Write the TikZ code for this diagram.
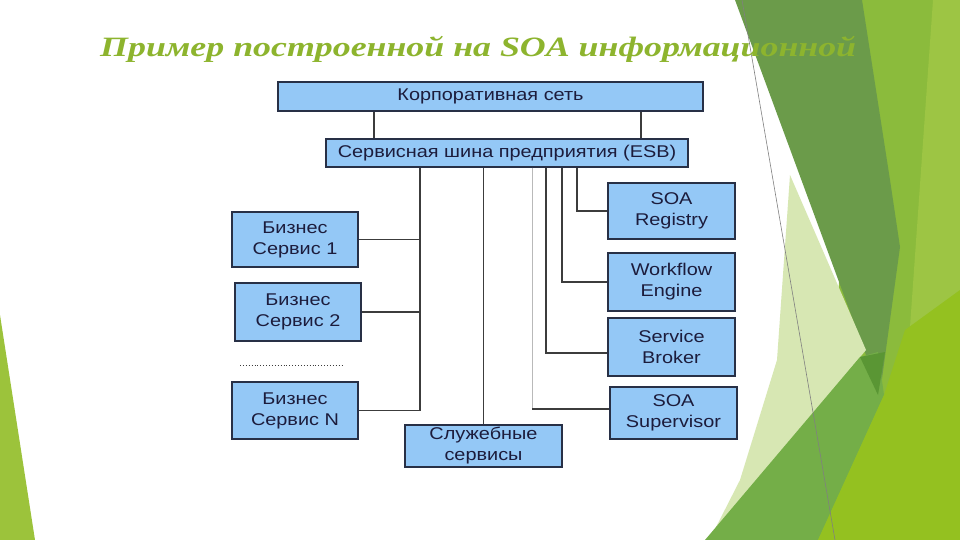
\documentclass[tikz,border=0pt]{standalone}
\usepackage{fontspec}
\newfontfamily\titlefont[FakeStretch=1.28]{Liberation Serif}
\newfontfamily\boxfont[FakeStretch=1.17]{Liberation Sans}
\definecolor{gdark}{HTML}{6B9B4A}
\definecolor{gmid}{HTML}{8BBB3C}
\definecolor{gright}{HTML}{9DC544}
\definecolor{gpale}{HTML}{D7E7B3}
\definecolor{gmed}{HTML}{74AE48}
\definecolor{gbright}{HTML}{94C120}
\definecolor{gleft}{HTML}{9CC33B}
\definecolor{gtip}{HTML}{5A9634}
\definecolor{titlegreen}{HTML}{8DB42E}
\definecolor{boxfill}{RGB}{148,200,246}
\definecolor{boxline}{RGB}{40,48,70}
\definecolor{boxtext}{RGB}{28,28,60}
\definecolor{conn}{RGB}{60,60,60}
\tikzset{
  box/.style={draw=boxline, line width=1.3pt, fill=boxfill, text=boxtext,
    font=\boxfont\fontsize{17}{21}\selectfont, align=center, inner sep=0pt},
  link/.style={draw=conn, line width=1.2pt},
  faint/.style={draw=gray!55, line width=1pt},
}
\begin{document}
\begin{tikzpicture}[x=1pt,y=-1pt]
\useasboundingbox (0,0) rectangle (960,540);
\fill[white] (0,0) rectangle (960,540);
% background decoration
\fill[gmid] (862,0) -- (960,0) -- (960,540) -- (818,540) -- cycle;
\fill[gright] (933,0) -- (960,0) -- (960,540) -- (895,540) -- cycle;
\fill[gdark] (735,0) -- (862,0) -- (890,180) -- (900,247) -- (880,393) -- (863,347) -- cycle;
\fill[gpale] (790,175) -- (866,350) -- (712,535) -- (740,480) -- (777,360) -- cycle;
\fill[gmed] (705,540) -- (860,357) -- (878,352) -- (884,395) -- (818,540) -- cycle;
\fill[gbright] (818,540) -- (884,395) -- (905,330) -- (960,290) -- (960,540) -- cycle;
\fill[gtip] (860,357) -- (885,352) -- (878,395) -- cycle;
\fill[gleft] (0,315) -- (35,540) -- (0,540) -- cycle;
\draw[gray, line width=0.6pt] (742,0) -- (835,540);
% title
\node[anchor=base west, inner sep=0pt, text=titlegreen,
  font=\titlefont\bfseries\itshape\fontsize{28}{32}\selectfont] (title) at (100,57)
  {Пример построенной на SOA информационной};
% boxes
\node[box, minimum width=425pt, minimum height=29pt] (corp) at (490.5,96.5) {Корпоративная сеть};
\node[box, minimum width=362pt, minimum height=28pt] (esb) at (507,153) {Сервисная шина предприятия (ESB)};
\node[box, minimum width=126pt, minimum height=55pt] (b1) at (295,239.5) {Бизнес\\Сервис 1};
\node[box, minimum width=126pt, minimum height=58pt] (b2) at (298,312) {Бизнес\\Сервис 2};
\node[box, minimum width=126pt, minimum height=57pt] (bN) at (295,410.5) {Бизнес\\Сервис N};
\node[box, minimum width=157pt, minimum height=42pt] (sl) at (483.5,446) {Служебные\\сервисы};
\node[box, minimum width=127pt, minimum height=56pt] (reg) at (671.5,211) {SOA\\Registry};
\node[box, minimum width=127pt, minimum height=58pt] (wf) at (671.5,282) {Workflow\\Engine};
\node[box, minimum width=127pt, minimum height=58pt] (sb) at (671.5,347) {Service\\Broker};
\node[box, minimum width=127pt, minimum height=52pt] (sup) at (673.5,413) {SOA\\Supervisor};
% helper coordinates
\coordinate (xl) at (374,0);
\coordinate (xr) at (641,0);
\coordinate (xa) at (420,0);
\coordinate (xs) at (532,0);
\coordinate (xb) at (546,0);
\coordinate (xw) at (562,0);
\coordinate (xg) at (577,0);
\coordinate (dotA) at (240,365);
\coordinate (dotB) at (343,365);
% connectors
\draw[link] (corp.south -| xl) -- (esb.north -| xl);
\draw[link] (corp.south -| xr) -- (esb.north -| xr);
\draw[link] (esb.south -| xa) -- (bN.east -| xa) -- (bN.east);
\draw[link] (b1.east) -- (b1.east -| xa);
\draw[link] (b2.east) -- (b2.east -| xa);
\draw[link] (esb.south -| sl.north) -- (sl.north);
\draw[link] (esb.south -| xg) |- (reg.west);
\draw[link] (esb.south -| xw) |- (wf.west);
\draw[link] (esb.south -| xb) |- ([yshift=-6pt]sb.west);
\draw[faint] (esb.south -| xs) -- ([yshift=4pt]sup.west -| xs);
\draw[link] ([yshift=4pt]sup.west -| xs) -- ([yshift=4pt]sup.west);
\draw[conn, line width=0.9pt, dotted] (dotA) -- (dotB);
\end{tikzpicture}
\end{document}
